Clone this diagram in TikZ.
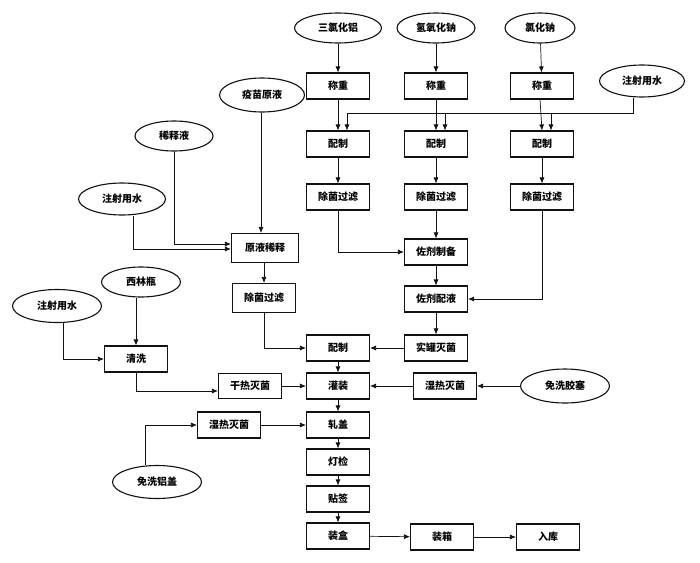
\documentclass[tikz,border=0pt]{standalone}
\usepackage{fontspec}
\newfontfamily\cjk{Noto Sans CJK SC}
\usetikzlibrary{arrows.meta,shapes.geometric,calc}
\definecolor{ink}{HTML}{111111}

\begin{document}
\begin{tikzpicture}[x=1pt,y=-1pt,
    proc/.style={draw=ink,line width=1.1pt,minimum width=63pt,minimum height=26pt,inner sep=0pt,font=\cjk\bfseries\fontsize{10}{11}\selectfont},
    src/.style={ellipse,draw=ink,line width=1.1pt,minimum width=86pt,minimum height=32pt,inner sep=0pt,font=\cjk\bfseries\fontsize{10}{11}\selectfont},
    flow/.style={draw=ink,line width=0.7pt,-{Latex[length=6pt,width=5pt]}},
    link/.style={draw=ink,line width=0.7pt}]
  \useasboundingbox (0,0) rectangle (700,562);

  % raw materials on top
  \node[src,minimum width=87pt,minimum height=30pt] (e1) at (338,28) {三氯化铝};
  \node[src,minimum width=78pt,minimum height=30pt] (e2) at (436,28) {氢氧化钠};
  \node[src,minimum width=70pt,minimum height=30pt] (e3) at (540,28) {氯化钠};
  \node[src,minimum width=85pt] (wr) at (642,81) {注射用水};

  % three columns: weigh, prepare, filter
  \foreach \i/\x in {1/338,2/436,3/542} {
    \node[proc] (w\i) at (\x,86) {称重};
    \node[proc] (p\i) at (\x,144) {配制};
    \node[proc] (f\i) at (\x,197) {除菌过滤};
    \coordinate (j\i) at (\x+9,113);
    \draw[flow] (w\i.south -| e\i.south) -- (w\i.south |- p\i.north);
    \draw[flow] (j\i) -- (j\i |- p\i.north);
    \draw[flow] (p\i) -- (f\i);
  }
  \foreach \i in {1,2,3} \draw[flow] (e\i) -- (w\i);
  \coordinate (j0) at (633,113);
  \draw[link] (wr.south -| j0) -- (j0) -- (j1);

  % adjuvant line
  \node[proc] (zb) at (436,252) {佐剂制备};
  \node[proc] (zp) at (436,299) {佐剂配液};
  \node[proc] (sg) at (436,348) {实罐灭菌};
  \draw[flow] (f1.south) |- (zb.west);
  \draw[flow] (f2) -- (zb);
  \draw[flow] (zb) -- (zp);
  \draw[flow] (f3.south) |- (zp.east);
  \draw[flow] (zp) -- (sg);

  % antigen line
  \node[src,minimum width=85pt,minimum height=34pt] (ym) at (262,95) {疫苗原液};
  \node[src,minimum width=78pt,minimum height=30pt] (xs) at (174,136) {稀释液};
  \node[src,minimum width=87pt] (z1) at (122,199) {注射用水};
  \node[proc,minimum width=67pt,minimum height=29pt] (yx) at (265,248) {原液稀释};
  \node[proc,minimum height=29pt] (cf) at (264,298) {除菌过滤};
  \draw[flow] (ym.south -| 261,0) -- (yx.north -| 261,0);
  \draw[flow] (xs.south) |- ($(yx.west)+(0,-4)$);
  \draw[flow] ($(z1.south)+(11,0)$) |- ($(yx.west)+(0,1)$);
  \draw[flow] (yx.south -| cf.south) -- (cf.north);

  % vials
  \node[src,minimum width=79pt,minimum height=30pt] (xl) at (141,282) {西林瓶};
  \node[src,minimum width=89pt,minimum height=33pt] (z2) at (57,306) {注射用水};
  \node[proc] (qx) at (136,359) {清洗};
  \node[proc,minimum height=25pt] (gr) at (250,386) {干热灭菌};
  \draw[flow] (xl.south -| qx.north) -- (qx.north);
  \draw[flow] ($(z2.south)+(6,0)$) |- (qx.west);
  \draw[flow] (qx.south) |- ($(gr.west)+(0,5)$);

  % filling and packing
  \node[proc] (pz) at (338,348) {配制};
  \node[proc] (gz) at (338,386) {灌装};
  \node[proc] (sr) at (445,386) {湿热灭菌};
  \node[src,minimum width=89pt,minimum height=34pt] (jd) at (565,386) {免洗胶塞};
  \node[proc] (sl) at (229,425) {湿热灭菌};
  \node[src,minimum width=89pt,minimum height=33pt] (lg) at (157,482) {免洗铝盖};
  \node[proc] (zg) at (338,425) {轧盖};
  \node[proc] (dj) at (338,462) {灯检};
  \node[proc] (tq) at (338,499) {贴签};
  \node[proc] (zh) at (338,536) {装盒};
  \node[proc] (zx) at (442,537) {装箱};
  \node[proc] (rk) at (548,537) {入库};
  \draw[flow] (cf.south) |- (pz.west);
  \draw[flow] (sg) -- (pz);
  \draw[flow] (gr) -- (gz);
  \draw[flow] (jd) -- (sr);
  \draw[flow] (sr) -- (gz);
  \draw[flow] ($(lg.north)+(-12,0)$) |- (sl.west);
  \draw[flow] (sl) -- (zg);
  \draw[flow] (pz) -- (gz);
  \draw[flow] (gz) -- (zg);
  \draw[flow] (zg) -- (dj);
  \draw[flow] (dj) -- (tq);
  \draw[flow] (tq) -- (zh);
  \draw[flow] (zh) -- (zx);
  \draw[flow] (zx) -- (rk);
\end{tikzpicture}
\end{document}
